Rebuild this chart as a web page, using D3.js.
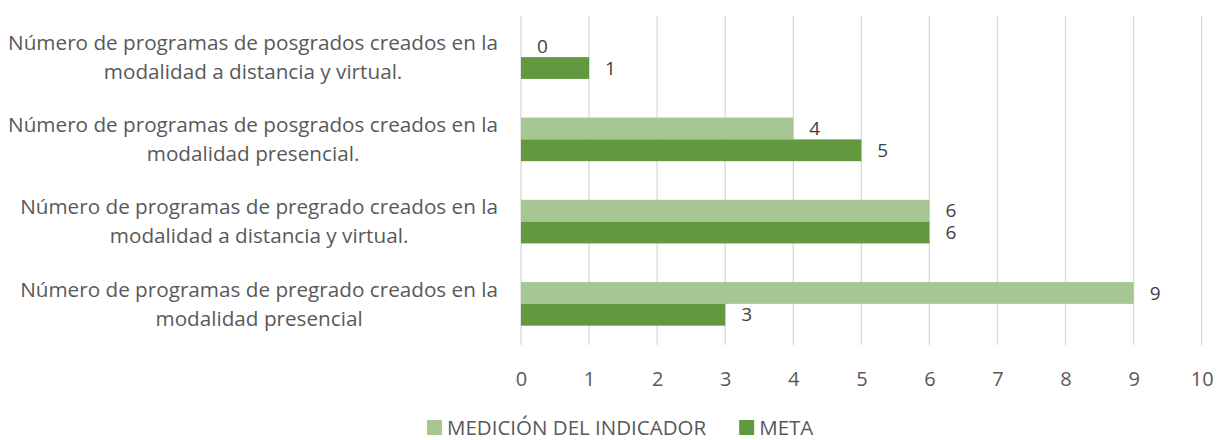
<!DOCTYPE html>
<html>
<head>
    <meta charset="utf-8">
    <title></title>
    <script src="https://cdn.jsdelivr.net/npm/d3@7/dist/d3.min.js"></script>
    <style>
        body { margin: 0; background: #fff; }
        svg text { font-family: "Open Sans", sans-serif; }
    </style>
</head>
<body>
    <div id="chart"></div>
    <script>
        // categories from top to bottom, each split into its two lines
        var categories = [
            ["Número de programas de posgrados creados en la", "modalidad a distancia y virtual."],
            ["Número de programas de posgrados creados en la", "modalidad presencial."],
            ["Número de programas de pregrado creados en la", "modalidad a distancia y virtual."],
            ["Número de programas de pregrado creados en la", "modalidad presencial"]
        ];
        var medicion = [0, 4, 6, 9];
        var meta = [1, 5, 6, 3];
        var seriesNames = ["MEDICIÓN DEL INDICADOR", "META"];
        var seriesColors = ["#a6c793", "#62993e"];
        var xTicks = [0, 1, 2, 3, 4, 5, 6, 7, 8, 9, 10];

        var W = 1217, H = 440;
        var plotL = 521, plotR = 1201.7, plotT = 16, plotB = 345;

        var svg = d3.select("#chart").append("svg")
            .attr("width", W)
            .attr("height", H);

        var x = d3.scaleLinear().domain([0, 10]).range([plotL, plotR]);
        var y = d3.scaleBand()
            .domain(d3.range(categories.length))
            .range([plotT, plotB])
            .paddingInner(0.47)
            .paddingOuter(0.235);
        var sub = d3.scaleBand().domain([0, 1]).range([0, y.bandwidth()]);

        // grid
        svg.append("g").selectAll("line")
            .data(xTicks)
            .enter().append("line")
            .attr("x1", function(d){ return x(d); })
            .attr("x2", function(d){ return x(d); })
            .attr("y1", plotT)
            .attr("y2", plotB)
            .style("stroke", "#d9d9d9")
            .style("stroke-width", 1.3);

        // x tick labels
        var xAxis = svg.append("g")
            .attr("transform", "translate(0," + plotB + ")")
            .call(d3.axisBottom(x).tickValues(xTicks).tickSize(0).tickPadding(27));
        xAxis.select(".domain").remove();
        xAxis.selectAll("text")
            .style("font-size", "20px")
            .style("fill", "#595959");

        var series = [medicion, meta];
        series.forEach(function(vals, s){
            var g = svg.append("g");
            g.selectAll("rect")
                .data(vals)
                .enter().append("rect")
                .attr("x", x(0))
                .attr("y", function(d, i){ return y(i) + sub(s); })
                .attr("width", function(d){ return x(d) - x(0); })
                .attr("height", sub.bandwidth())
                .style("fill", seriesColors[s]);
            g.selectAll("text")
                .data(vals)
                .enter().append("text")
                .attr("x", function(d){ return x(d) + 16; })
                .attr("y", function(d, i){ return y(i) + sub(s) + sub.bandwidth() / 2; })
                .attr("dy", "0.35em")
                .style("font-size", "19px")
                .style("fill", "#404040")
                .text(function(d){ return d; });
        });

        // category labels, block right aligned, lines centred
        categories.forEach(function(lines, i){
            var cy = y(i) + y.bandwidth() / 2;
            var t = svg.append("text")
                .style("font-size", "20.7px")
                .style("fill", "#595959")
                .attr("text-anchor", "middle");
            var spans = t.selectAll("tspan")
                .data(lines)
                .enter().append("tspan")
                .attr("y", function(d, j){ return cy + (j - 0.5) * 29; })
                .attr("dy", "0.35em")
                .text(function(d){ return d; });
            var maxW = 0;
            spans.each(function(){ maxW = Math.max(maxW, this.getComputedTextLength()); });
            spans.attr("x", 498 - maxW / 2);
        });

        // legend
        var legend = svg.append("g");
        var lx = 427;
        seriesNames.forEach(function(name, s){
            legend.append("rect")
                .attr("x", lx)
                .attr("y", 420)
                .attr("width", 15)
                .attr("height", 15)
                .style("fill", seriesColors[s]);
            var txt = legend.append("text")
                .attr("x", lx + 20)
                .attr("y", 428)
                .attr("dy", "0.35em")
                .style("font-size", "20.5px")
                .style("fill", "#595959")
                .text(name);
            lx += 20 + txt.node().getComputedTextLength() + 33;
        });
    </script>
</body>
</html>
